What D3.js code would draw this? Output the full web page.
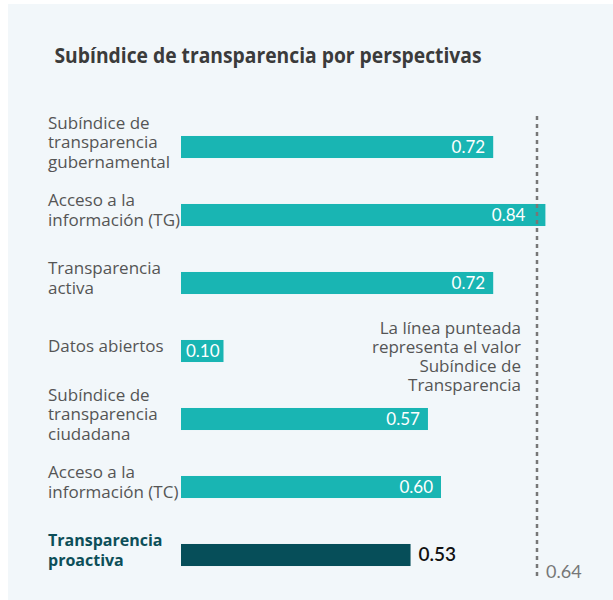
<!DOCTYPE html>
<html>
<head>
<meta charset="utf-8">
<script src="https://cdn.jsdelivr.net/npm/d3@7"></script>
<style>
  body { margin: 0; background: #ffffff; }
  svg { display: block; }
</style>
</head>
<body>
<svg id="chart"></svg>
<script>
// data
var categories = [
    "Subíndice de|transparencia|gubernamental",
    "Acceso a la|información (TG)",
    "Transparencia|activa",
    "Datos abiertos",
    "Subíndice de|transparencia|ciudadana",
    "Acceso a la|información (TC)",
    "Transparencia|proactiva"
];
var values = [0.72, 0.84, 0.72, 0.10, 0.57, 0.60, 0.53];
var highlight = [false, false, false, false, false, false, true];
var referenceValue = 0.64;
var noteLines = ["La línea punteada", "representa el valor", "Subíndice de", "Transparencia"];
var title = "Subíndice de transparencia por perspectivas";

var W = 613, H = 600;
var svg = d3.select("#chart").attr("width", W).attr("height", H);

// panel
svg.append("rect")
    .attr("x", 8).attr("y", 4)
    .attr("width", W - 8).attr("height", H - 4)
    .attr("fill", "#f2f7fa");

var titleText = svg.append("text")
    .attr("x", 268).attr("y", 63)
    .attr("text-anchor", "middle")
    .attr("font-family", "'Open Sans', sans-serif")
    .attr("font-weight", 700)
    .attr("font-size", 21)
    .attr("fill", "#3b3b3b")
    .text(title);
// squeeze to the reference width
titleText.attr("textLength", 427).attr("lengthAdjust", "spacingAndGlyphs");

// scales
var xScale = d3.scaleLinear()
    .domain([0, 1])
    .range([180, 615]);

var yScale = d3.scaleBand()
    .domain(categories)
    .range([113, 589])
    .paddingInner(0.676)
    .paddingOuter(0.338);

var font = "'Open Sans', sans-serif";

// bars
var g = svg.append("g");
g.selectAll("rect.bar").data(values)
    .enter().append("rect")
    .attr("class", "bar")
    .attr("x", xScale(0) + 1)
    .attr("y", function(d, i){ return yScale(categories[i]); })
    .attr("width", function(d){ return xScale(d) - xScale(0) - 1; })
    .attr("height", yScale.bandwidth())
    .attr("fill", function(d, i){ return highlight[i] ? "#064e59" : "#19b5b3"; });

// value labels
g.selectAll("text.val").data(values)
    .enter().append("text")
    .attr("class", "val")
    .attr("x", function(d, i){
        if (highlight[i]) return xScale(d) + 8;
        if (d < 0.2) return (xScale(0) + xScale(d)) / 2 + 1;
        if (xScale(d) > 530) return xScale(d) - 20;
        return xScale(d) - 8;
    })
    .attr("y", function(d, i){ return yScale(categories[i]) + yScale.bandwidth() / 2 + 6; })
    .attr("text-anchor", function(d, i){
        if (highlight[i]) return "start";
        return d < 0.2 ? "middle" : "end";
    })
    .attr("font-family", "Lato, sans-serif")
    .attr("font-size", function(d, i){ return highlight[i] ? 19 : 17; })
    .attr("font-weight", function(d, i){ return highlight[i] ? 600 : 400; })
    .attr("fill", function(d, i){ return highlight[i] ? "#111111" : "#ffffff"; })
    .text(function(d){ return d3.format(".2f")(d); });

// category labels
var lineH = 19.5;
var labels = g.selectAll("text.cat").data(categories)
    .enter().append("text")
    .attr("class", "cat")
    .attr("x", 48)
    .attr("font-family", font)
    .attr("font-size", function(d, i){ return highlight[i] ? 16 : 17; })
    .attr("font-weight", function(d, i){ return highlight[i] ? 700 : 400; })
    .attr("fill", function(d, i){ return highlight[i] ? "#0d4f59" : "#555555"; });

labels.each(function(d, i){
    var lines = d.split("|");
    var cy = yScale(d) + yScale.bandwidth() / 2;
    var first = cy - (lines.length - 1) * lineH / 2 + 1;
    var t = d3.select(this);
    lines.forEach(function(l, k){
        t.append("tspan")
            .attr("x", 48)
            .attr("y", first + k * lineH)
            .text(l);
    });
});

// reference line (drawn at right edge of plot area)
var refX = 537;
svg.append("line")
    .attr("x1", refX).attr("x2", refX)
    .attr("y1", 116).attr("y2", 580)
    .attr("stroke", "#777777")
    .attr("stroke-width", 2.5)
    .attr("stroke-dasharray", "4,4");

svg.append("text")
    .attr("x", refX + 9).attr("y", 578)
    .attr("font-family", "Lato, sans-serif")
    .attr("font-size", 18)
    .attr("fill", "#777777")
    .text(d3.format(".2f")(referenceValue));

// note
var note = svg.append("text")
    .attr("text-anchor", "end")
    .attr("font-family", font)
    .attr("font-size", 17)
    .attr("fill", "#555555");
noteLines.forEach(function(l, k){
    note.append("tspan")
        .attr("x", 521)
        .attr("y", 334 + k * 19)
        .text(l);
});
</script>
</body>
</html>
